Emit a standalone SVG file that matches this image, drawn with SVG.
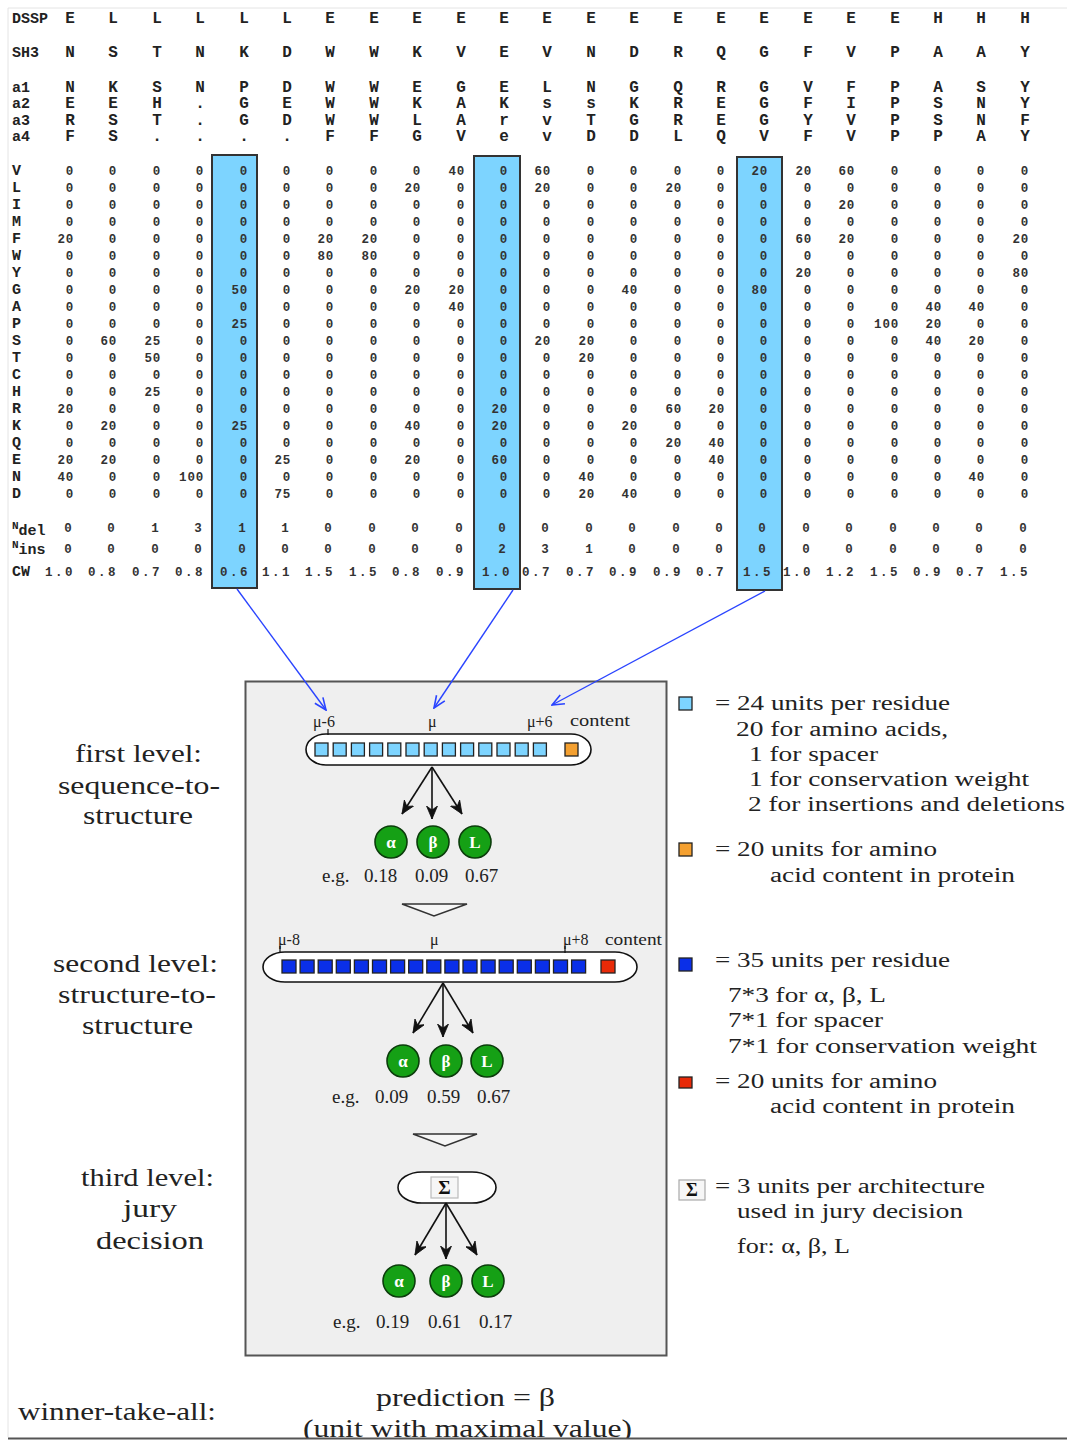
<svg xmlns="http://www.w3.org/2000/svg" width="1067" height="1441" viewBox="0 0 1067 1441">
<style>
.h{font-family:"Liberation Mono",monospace;font-weight:bold;font-size:16px;fill:#222;text-anchor:middle}
.lb{font-family:"Liberation Mono",monospace;font-weight:bold;font-size:15px;fill:#222}
.n{font-family:"Liberation Mono",monospace;font-weight:bold;font-size:12.5px;fill:#333;text-anchor:end;letter-spacing:0.8px}
.c{font-family:"Liberation Mono",monospace;font-weight:bold;font-size:12.5px;fill:#333;text-anchor:middle}
.cw{font-family:"Liberation Mono",monospace;font-weight:bold;font-size:12.5px;fill:#333;text-anchor:middle;letter-spacing:2.5px}
.s{font-family:"Liberation Serif",serif;font-size:26px;fill:#222}
.g{font-family:"Liberation Serif",serif;font-size:20px;fill:#222}
.e{font-family:"Liberation Serif",serif;font-size:19px;fill:#222}
.m{font-family:"Liberation Serif",serif;font-size:16px;fill:#222}
.hl{fill:#7dd4ff;stroke:#333;stroke-width:2}
.cb{fill:#7dd4ff;stroke:#222;stroke-width:1.3}
.co{fill:#f4a030;stroke:#222;stroke-width:1.3}
.cd{fill:#0a2fe8;stroke:#222;stroke-width:1.3}
.cr{fill:#e82a08;stroke:#222;stroke-width:1.3}
.pill{fill:#fff;stroke:#111;stroke-width:1.6}
.gc{fill:#15a015;stroke:#0b3d0b;stroke-width:1.6}
.gt{font-family:"Liberation Serif",serif;font-weight:bold;font-size:17px;fill:#fff;text-anchor:middle}
.ba{stroke:#111;stroke-width:1.6;fill:none;marker-end:url(#ak)}
.bl{stroke:#2a44ff;stroke-width:1.4;fill:none;marker-end:url(#ab)}
.tk{stroke:#111;stroke-width:1.2}
</style>
<defs>
<marker id="ab" viewBox="0 0 14 12" refX="13" refY="6" markerWidth="14" markerHeight="12" orient="auto" markerUnits="userSpaceOnUse"><path d="M1,1 L13,6 L1,11" fill="none" stroke="#2a44ff" stroke-width="1.6"/></marker>
<marker id="ak" viewBox="0 0 14 12" refX="13" refY="6" markerWidth="14" markerHeight="12" orient="auto" markerUnits="userSpaceOnUse"><path d="M0,0.5 L13,6 L0,11.5 L4,6 Z" fill="#111" stroke="#111" stroke-width="0.8"/></marker>
</defs>
<rect x="0" y="0" width="1067" height="1441" fill="#fff"/>
<line x1="8" y1="8" x2="1067" y2="8" stroke="#e4e4e4" stroke-width="1"/>
<line x1="8" y1="8" x2="8" y2="1437" stroke="#e4e4e4" stroke-width="1"/>

<g id="highlights">
<rect class="hl" x="212" y="155" width="45" height="433"/>
<rect class="hl" x="474" y="156" width="46" height="433"/>
<rect class="hl" x="737" y="157" width="45" height="433"/>
</g>

<g id="table">
<text class="lb" x="12" y="23">DSSP</text>
<text class="h" y="23"><tspan x="70">E</tspan><tspan x="113">L</tspan><tspan x="157">L</tspan><tspan x="200">L</tspan><tspan x="244">L</tspan><tspan x="287">L</tspan><tspan x="330">E</tspan><tspan x="374">E</tspan><tspan x="417">E</tspan><tspan x="461">E</tspan><tspan x="504">E</tspan><tspan x="547">E</tspan><tspan x="591">E</tspan><tspan x="634">E</tspan><tspan x="678">E</tspan><tspan x="721">E</tspan><tspan x="764">E</tspan><tspan x="808">E</tspan><tspan x="851">E</tspan><tspan x="895">E</tspan><tspan x="938">H</tspan><tspan x="981">H</tspan><tspan x="1025">H</tspan></text>
<text class="lb" x="12" y="57">SH3</text>
<text class="h" y="57"><tspan x="70">N</tspan><tspan x="113">S</tspan><tspan x="157">T</tspan><tspan x="200">N</tspan><tspan x="244">K</tspan><tspan x="287">D</tspan><tspan x="330">W</tspan><tspan x="374">W</tspan><tspan x="417">K</tspan><tspan x="461">V</tspan><tspan x="504">E</tspan><tspan x="547">V</tspan><tspan x="591">N</tspan><tspan x="634">D</tspan><tspan x="678">R</tspan><tspan x="721">Q</tspan><tspan x="764">G</tspan><tspan x="808">F</tspan><tspan x="851">V</tspan><tspan x="895">P</tspan><tspan x="938">A</tspan><tspan x="981">A</tspan><tspan x="1025">Y</tspan></text>
<text class="lb" x="12" y="92">a1</text>
<text class="h" y="92"><tspan x="70">N</tspan><tspan x="113">K</tspan><tspan x="157">S</tspan><tspan x="200">N</tspan><tspan x="244">P</tspan><tspan x="287">D</tspan><tspan x="330">W</tspan><tspan x="374">W</tspan><tspan x="417">E</tspan><tspan x="461">G</tspan><tspan x="504">E</tspan><tspan x="547">L</tspan><tspan x="591">N</tspan><tspan x="634">G</tspan><tspan x="678">Q</tspan><tspan x="721">R</tspan><tspan x="764">G</tspan><tspan x="808">V</tspan><tspan x="851">F</tspan><tspan x="895">P</tspan><tspan x="938">A</tspan><tspan x="981">S</tspan><tspan x="1025">Y</tspan></text>
<text class="lb" x="12" y="108">a2</text>
<text class="h" y="108"><tspan x="70">E</tspan><tspan x="113">E</tspan><tspan x="157">H</tspan><tspan x="200">.</tspan><tspan x="244">G</tspan><tspan x="287">E</tspan><tspan x="330">W</tspan><tspan x="374">W</tspan><tspan x="417">K</tspan><tspan x="461">A</tspan><tspan x="504">K</tspan><tspan x="547">s</tspan><tspan x="591">s</tspan><tspan x="634">K</tspan><tspan x="678">R</tspan><tspan x="721">E</tspan><tspan x="764">G</tspan><tspan x="808">F</tspan><tspan x="851">I</tspan><tspan x="895">P</tspan><tspan x="938">S</tspan><tspan x="981">N</tspan><tspan x="1025">Y</tspan></text>
<text class="lb" x="12" y="125">a3</text>
<text class="h" y="125"><tspan x="70">R</tspan><tspan x="113">S</tspan><tspan x="157">T</tspan><tspan x="200">.</tspan><tspan x="244">G</tspan><tspan x="287">D</tspan><tspan x="330">W</tspan><tspan x="374">W</tspan><tspan x="417">L</tspan><tspan x="461">A</tspan><tspan x="504">r</tspan><tspan x="547">v</tspan><tspan x="591">T</tspan><tspan x="634">G</tspan><tspan x="678">R</tspan><tspan x="721">E</tspan><tspan x="764">G</tspan><tspan x="808">Y</tspan><tspan x="851">V</tspan><tspan x="895">P</tspan><tspan x="938">S</tspan><tspan x="981">N</tspan><tspan x="1025">F</tspan></text>
<text class="lb" x="12" y="141">a4</text>
<text class="h" y="141"><tspan x="70">F</tspan><tspan x="113">S</tspan><tspan x="157">.</tspan><tspan x="200">.</tspan><tspan x="244">.</tspan><tspan x="287">.</tspan><tspan x="330">F</tspan><tspan x="374">F</tspan><tspan x="417">G</tspan><tspan x="461">V</tspan><tspan x="504">e</tspan><tspan x="547">v</tspan><tspan x="591">D</tspan><tspan x="634">D</tspan><tspan x="678">L</tspan><tspan x="721">Q</tspan><tspan x="764">V</tspan><tspan x="808">F</tspan><tspan x="851">V</tspan><tspan x="895">P</tspan><tspan x="938">P</tspan><tspan x="981">A</tspan><tspan x="1025">Y</tspan></text>

<text class="lb" x="12" y="175">V</text>
<text class="n" y="175"><tspan x="74">0</tspan><tspan x="117">0</tspan><tspan x="161">0</tspan><tspan x="204">0</tspan><tspan x="248">0</tspan><tspan x="291">0</tspan><tspan x="334">0</tspan><tspan x="378">0</tspan><tspan x="421">0</tspan><tspan x="465">40</tspan><tspan x="508">0</tspan><tspan x="551">60</tspan><tspan x="595">0</tspan><tspan x="638">0</tspan><tspan x="682">0</tspan><tspan x="725">0</tspan><tspan x="768">20</tspan><tspan x="812">20</tspan><tspan x="855">60</tspan><tspan x="899">0</tspan><tspan x="942">0</tspan><tspan x="985">0</tspan><tspan x="1029">0</tspan></text>
<text class="lb" x="12" y="192">L</text>
<text class="n" y="192"><tspan x="74">0</tspan><tspan x="117">0</tspan><tspan x="161">0</tspan><tspan x="204">0</tspan><tspan x="248">0</tspan><tspan x="291">0</tspan><tspan x="334">0</tspan><tspan x="378">0</tspan><tspan x="421">20</tspan><tspan x="465">0</tspan><tspan x="508">0</tspan><tspan x="551">20</tspan><tspan x="595">0</tspan><tspan x="638">0</tspan><tspan x="682">20</tspan><tspan x="725">0</tspan><tspan x="768">0</tspan><tspan x="812">0</tspan><tspan x="855">0</tspan><tspan x="899">0</tspan><tspan x="942">0</tspan><tspan x="985">0</tspan><tspan x="1029">0</tspan></text>
<text class="lb" x="12" y="209">I</text>
<text class="n" y="209"><tspan x="74">0</tspan><tspan x="117">0</tspan><tspan x="161">0</tspan><tspan x="204">0</tspan><tspan x="248">0</tspan><tspan x="291">0</tspan><tspan x="334">0</tspan><tspan x="378">0</tspan><tspan x="421">0</tspan><tspan x="465">0</tspan><tspan x="508">0</tspan><tspan x="551">0</tspan><tspan x="595">0</tspan><tspan x="638">0</tspan><tspan x="682">0</tspan><tspan x="725">0</tspan><tspan x="768">0</tspan><tspan x="812">0</tspan><tspan x="855">20</tspan><tspan x="899">0</tspan><tspan x="942">0</tspan><tspan x="985">0</tspan><tspan x="1029">0</tspan></text>
<text class="lb" x="12" y="226">M</text>
<text class="n" y="226"><tspan x="74">0</tspan><tspan x="117">0</tspan><tspan x="161">0</tspan><tspan x="204">0</tspan><tspan x="248">0</tspan><tspan x="291">0</tspan><tspan x="334">0</tspan><tspan x="378">0</tspan><tspan x="421">0</tspan><tspan x="465">0</tspan><tspan x="508">0</tspan><tspan x="551">0</tspan><tspan x="595">0</tspan><tspan x="638">0</tspan><tspan x="682">0</tspan><tspan x="725">0</tspan><tspan x="768">0</tspan><tspan x="812">0</tspan><tspan x="855">0</tspan><tspan x="899">0</tspan><tspan x="942">0</tspan><tspan x="985">0</tspan><tspan x="1029">0</tspan></text>
<text class="lb" x="12" y="243">F</text>
<text class="n" y="243"><tspan x="74">20</tspan><tspan x="117">0</tspan><tspan x="161">0</tspan><tspan x="204">0</tspan><tspan x="248">0</tspan><tspan x="291">0</tspan><tspan x="334">20</tspan><tspan x="378">20</tspan><tspan x="421">0</tspan><tspan x="465">0</tspan><tspan x="508">0</tspan><tspan x="551">0</tspan><tspan x="595">0</tspan><tspan x="638">0</tspan><tspan x="682">0</tspan><tspan x="725">0</tspan><tspan x="768">0</tspan><tspan x="812">60</tspan><tspan x="855">20</tspan><tspan x="899">0</tspan><tspan x="942">0</tspan><tspan x="985">0</tspan><tspan x="1029">20</tspan></text>
<text class="lb" x="12" y="260">W</text>
<text class="n" y="260"><tspan x="74">0</tspan><tspan x="117">0</tspan><tspan x="161">0</tspan><tspan x="204">0</tspan><tspan x="248">0</tspan><tspan x="291">0</tspan><tspan x="334">80</tspan><tspan x="378">80</tspan><tspan x="421">0</tspan><tspan x="465">0</tspan><tspan x="508">0</tspan><tspan x="551">0</tspan><tspan x="595">0</tspan><tspan x="638">0</tspan><tspan x="682">0</tspan><tspan x="725">0</tspan><tspan x="768">0</tspan><tspan x="812">0</tspan><tspan x="855">0</tspan><tspan x="899">0</tspan><tspan x="942">0</tspan><tspan x="985">0</tspan><tspan x="1029">0</tspan></text>
<text class="lb" x="12" y="277">Y</text>
<text class="n" y="277"><tspan x="74">0</tspan><tspan x="117">0</tspan><tspan x="161">0</tspan><tspan x="204">0</tspan><tspan x="248">0</tspan><tspan x="291">0</tspan><tspan x="334">0</tspan><tspan x="378">0</tspan><tspan x="421">0</tspan><tspan x="465">0</tspan><tspan x="508">0</tspan><tspan x="551">0</tspan><tspan x="595">0</tspan><tspan x="638">0</tspan><tspan x="682">0</tspan><tspan x="725">0</tspan><tspan x="768">0</tspan><tspan x="812">20</tspan><tspan x="855">0</tspan><tspan x="899">0</tspan><tspan x="942">0</tspan><tspan x="985">0</tspan><tspan x="1029">80</tspan></text>
<text class="lb" x="12" y="294">G</text>
<text class="n" y="294"><tspan x="74">0</tspan><tspan x="117">0</tspan><tspan x="161">0</tspan><tspan x="204">0</tspan><tspan x="248">50</tspan><tspan x="291">0</tspan><tspan x="334">0</tspan><tspan x="378">0</tspan><tspan x="421">20</tspan><tspan x="465">20</tspan><tspan x="508">0</tspan><tspan x="551">0</tspan><tspan x="595">0</tspan><tspan x="638">40</tspan><tspan x="682">0</tspan><tspan x="725">0</tspan><tspan x="768">80</tspan><tspan x="812">0</tspan><tspan x="855">0</tspan><tspan x="899">0</tspan><tspan x="942">0</tspan><tspan x="985">0</tspan><tspan x="1029">0</tspan></text>
<text class="lb" x="12" y="311">A</text>
<text class="n" y="311"><tspan x="74">0</tspan><tspan x="117">0</tspan><tspan x="161">0</tspan><tspan x="204">0</tspan><tspan x="248">0</tspan><tspan x="291">0</tspan><tspan x="334">0</tspan><tspan x="378">0</tspan><tspan x="421">0</tspan><tspan x="465">40</tspan><tspan x="508">0</tspan><tspan x="551">0</tspan><tspan x="595">0</tspan><tspan x="638">0</tspan><tspan x="682">0</tspan><tspan x="725">0</tspan><tspan x="768">0</tspan><tspan x="812">0</tspan><tspan x="855">0</tspan><tspan x="899">0</tspan><tspan x="942">40</tspan><tspan x="985">40</tspan><tspan x="1029">0</tspan></text>
<text class="lb" x="12" y="328">P</text>
<text class="n" y="328"><tspan x="74">0</tspan><tspan x="117">0</tspan><tspan x="161">0</tspan><tspan x="204">0</tspan><tspan x="248">25</tspan><tspan x="291">0</tspan><tspan x="334">0</tspan><tspan x="378">0</tspan><tspan x="421">0</tspan><tspan x="465">0</tspan><tspan x="508">0</tspan><tspan x="551">0</tspan><tspan x="595">0</tspan><tspan x="638">0</tspan><tspan x="682">0</tspan><tspan x="725">0</tspan><tspan x="768">0</tspan><tspan x="812">0</tspan><tspan x="855">0</tspan><tspan x="899">100</tspan><tspan x="942">20</tspan><tspan x="985">0</tspan><tspan x="1029">0</tspan></text>
<text class="lb" x="12" y="345">S</text>
<text class="n" y="345"><tspan x="74">0</tspan><tspan x="117">60</tspan><tspan x="161">25</tspan><tspan x="204">0</tspan><tspan x="248">0</tspan><tspan x="291">0</tspan><tspan x="334">0</tspan><tspan x="378">0</tspan><tspan x="421">0</tspan><tspan x="465">0</tspan><tspan x="508">0</tspan><tspan x="551">20</tspan><tspan x="595">20</tspan><tspan x="638">0</tspan><tspan x="682">0</tspan><tspan x="725">0</tspan><tspan x="768">0</tspan><tspan x="812">0</tspan><tspan x="855">0</tspan><tspan x="899">0</tspan><tspan x="942">40</tspan><tspan x="985">20</tspan><tspan x="1029">0</tspan></text>
<text class="lb" x="12" y="362">T</text>
<text class="n" y="362"><tspan x="74">0</tspan><tspan x="117">0</tspan><tspan x="161">50</tspan><tspan x="204">0</tspan><tspan x="248">0</tspan><tspan x="291">0</tspan><tspan x="334">0</tspan><tspan x="378">0</tspan><tspan x="421">0</tspan><tspan x="465">0</tspan><tspan x="508">0</tspan><tspan x="551">0</tspan><tspan x="595">20</tspan><tspan x="638">0</tspan><tspan x="682">0</tspan><tspan x="725">0</tspan><tspan x="768">0</tspan><tspan x="812">0</tspan><tspan x="855">0</tspan><tspan x="899">0</tspan><tspan x="942">0</tspan><tspan x="985">0</tspan><tspan x="1029">0</tspan></text>
<text class="lb" x="12" y="379">C</text>
<text class="n" y="379"><tspan x="74">0</tspan><tspan x="117">0</tspan><tspan x="161">0</tspan><tspan x="204">0</tspan><tspan x="248">0</tspan><tspan x="291">0</tspan><tspan x="334">0</tspan><tspan x="378">0</tspan><tspan x="421">0</tspan><tspan x="465">0</tspan><tspan x="508">0</tspan><tspan x="551">0</tspan><tspan x="595">0</tspan><tspan x="638">0</tspan><tspan x="682">0</tspan><tspan x="725">0</tspan><tspan x="768">0</tspan><tspan x="812">0</tspan><tspan x="855">0</tspan><tspan x="899">0</tspan><tspan x="942">0</tspan><tspan x="985">0</tspan><tspan x="1029">0</tspan></text>
<text class="lb" x="12" y="396">H</text>
<text class="n" y="396"><tspan x="74">0</tspan><tspan x="117">0</tspan><tspan x="161">25</tspan><tspan x="204">0</tspan><tspan x="248">0</tspan><tspan x="291">0</tspan><tspan x="334">0</tspan><tspan x="378">0</tspan><tspan x="421">0</tspan><tspan x="465">0</tspan><tspan x="508">0</tspan><tspan x="551">0</tspan><tspan x="595">0</tspan><tspan x="638">0</tspan><tspan x="682">0</tspan><tspan x="725">0</tspan><tspan x="768">0</tspan><tspan x="812">0</tspan><tspan x="855">0</tspan><tspan x="899">0</tspan><tspan x="942">0</tspan><tspan x="985">0</tspan><tspan x="1029">0</tspan></text>
<text class="lb" x="12" y="413">R</text>
<text class="n" y="413"><tspan x="74">20</tspan><tspan x="117">0</tspan><tspan x="161">0</tspan><tspan x="204">0</tspan><tspan x="248">0</tspan><tspan x="291">0</tspan><tspan x="334">0</tspan><tspan x="378">0</tspan><tspan x="421">0</tspan><tspan x="465">0</tspan><tspan x="508">20</tspan><tspan x="551">0</tspan><tspan x="595">0</tspan><tspan x="638">0</tspan><tspan x="682">60</tspan><tspan x="725">20</tspan><tspan x="768">0</tspan><tspan x="812">0</tspan><tspan x="855">0</tspan><tspan x="899">0</tspan><tspan x="942">0</tspan><tspan x="985">0</tspan><tspan x="1029">0</tspan></text>
<text class="lb" x="12" y="430">K</text>
<text class="n" y="430"><tspan x="74">0</tspan><tspan x="117">20</tspan><tspan x="161">0</tspan><tspan x="204">0</tspan><tspan x="248">25</tspan><tspan x="291">0</tspan><tspan x="334">0</tspan><tspan x="378">0</tspan><tspan x="421">40</tspan><tspan x="465">0</tspan><tspan x="508">20</tspan><tspan x="551">0</tspan><tspan x="595">0</tspan><tspan x="638">20</tspan><tspan x="682">0</tspan><tspan x="725">0</tspan><tspan x="768">0</tspan><tspan x="812">0</tspan><tspan x="855">0</tspan><tspan x="899">0</tspan><tspan x="942">0</tspan><tspan x="985">0</tspan><tspan x="1029">0</tspan></text>
<text class="lb" x="12" y="447">Q</text>
<text class="n" y="447"><tspan x="74">0</tspan><tspan x="117">0</tspan><tspan x="161">0</tspan><tspan x="204">0</tspan><tspan x="248">0</tspan><tspan x="291">0</tspan><tspan x="334">0</tspan><tspan x="378">0</tspan><tspan x="421">0</tspan><tspan x="465">0</tspan><tspan x="508">0</tspan><tspan x="551">0</tspan><tspan x="595">0</tspan><tspan x="638">0</tspan><tspan x="682">20</tspan><tspan x="725">40</tspan><tspan x="768">0</tspan><tspan x="812">0</tspan><tspan x="855">0</tspan><tspan x="899">0</tspan><tspan x="942">0</tspan><tspan x="985">0</tspan><tspan x="1029">0</tspan></text>
<text class="lb" x="12" y="464">E</text>
<text class="n" y="464"><tspan x="74">20</tspan><tspan x="117">20</tspan><tspan x="161">0</tspan><tspan x="204">0</tspan><tspan x="248">0</tspan><tspan x="291">25</tspan><tspan x="334">0</tspan><tspan x="378">0</tspan><tspan x="421">20</tspan><tspan x="465">0</tspan><tspan x="508">60</tspan><tspan x="551">0</tspan><tspan x="595">0</tspan><tspan x="638">0</tspan><tspan x="682">0</tspan><tspan x="725">40</tspan><tspan x="768">0</tspan><tspan x="812">0</tspan><tspan x="855">0</tspan><tspan x="899">0</tspan><tspan x="942">0</tspan><tspan x="985">0</tspan><tspan x="1029">0</tspan></text>
<text class="lb" x="12" y="481">N</text>
<text class="n" y="481"><tspan x="74">40</tspan><tspan x="117">0</tspan><tspan x="161">0</tspan><tspan x="204">100</tspan><tspan x="248">0</tspan><tspan x="291">0</tspan><tspan x="334">0</tspan><tspan x="378">0</tspan><tspan x="421">0</tspan><tspan x="465">0</tspan><tspan x="508">0</tspan><tspan x="551">0</tspan><tspan x="595">40</tspan><tspan x="638">0</tspan><tspan x="682">0</tspan><tspan x="725">0</tspan><tspan x="768">0</tspan><tspan x="812">0</tspan><tspan x="855">0</tspan><tspan x="899">0</tspan><tspan x="942">0</tspan><tspan x="985">40</tspan><tspan x="1029">0</tspan></text>
<text class="lb" x="12" y="498">D</text>
<text class="n" y="498"><tspan x="74">0</tspan><tspan x="117">0</tspan><tspan x="161">0</tspan><tspan x="204">0</tspan><tspan x="248">0</tspan><tspan x="291">75</tspan><tspan x="334">0</tspan><tspan x="378">0</tspan><tspan x="421">0</tspan><tspan x="465">0</tspan><tspan x="508">0</tspan><tspan x="551">0</tspan><tspan x="595">20</tspan><tspan x="638">40</tspan><tspan x="682">0</tspan><tspan x="725">0</tspan><tspan x="768">0</tspan><tspan x="812">0</tspan><tspan x="855">0</tspan><tspan x="899">0</tspan><tspan x="942">0</tspan><tspan x="985">0</tspan><tspan x="1029">0</tspan></text>

<text class="lb" x="12" y="529"><tspan font-size="11">N</tspan><tspan dy="6" font-size="15">del</tspan></text>
<text class="c" y="532"><tspan x="68">0</tspan><tspan x="111">0</tspan><tspan x="155">1</tspan><tspan x="198">3</tspan><tspan x="242">1</tspan><tspan x="285">1</tspan><tspan x="328">0</tspan><tspan x="372">0</tspan><tspan x="415">0</tspan><tspan x="459">0</tspan><tspan x="502">0</tspan><tspan x="545">0</tspan><tspan x="589">0</tspan><tspan x="632">0</tspan><tspan x="676">0</tspan><tspan x="719">0</tspan><tspan x="762">0</tspan><tspan x="806">0</tspan><tspan x="849">0</tspan><tspan x="893">0</tspan><tspan x="936">0</tspan><tspan x="979">0</tspan><tspan x="1023">0</tspan></text>
<text class="lb" x="12" y="548"><tspan font-size="11">N</tspan><tspan dy="6" font-size="15">ins</tspan></text>
<text class="c" y="553"><tspan x="68">0</tspan><tspan x="111">0</tspan><tspan x="155">0</tspan><tspan x="198">0</tspan><tspan x="242">0</tspan><tspan x="285">0</tspan><tspan x="328">0</tspan><tspan x="372">0</tspan><tspan x="415">0</tspan><tspan x="459">0</tspan><tspan x="502">2</tspan><tspan x="545">3</tspan><tspan x="589">1</tspan><tspan x="632">0</tspan><tspan x="676">0</tspan><tspan x="719">0</tspan><tspan x="762">0</tspan><tspan x="806">0</tspan><tspan x="849">0</tspan><tspan x="893">0</tspan><tspan x="936">0</tspan><tspan x="979">0</tspan><tspan x="1023">0</tspan></text>
<text class="lb" x="12" y="576">CW</text>
<text class="cw" y="576"><tspan x="60">1.0</tspan><tspan x="103">0.8</tspan><tspan x="147">0.7</tspan><tspan x="190">0.8</tspan><tspan x="235">0.6</tspan><tspan x="277">1.1</tspan><tspan x="320">1.5</tspan><tspan x="364">1.5</tspan><tspan x="407">0.8</tspan><tspan x="451">0.9</tspan><tspan x="497">1.0</tspan><tspan x="537">0.7</tspan><tspan x="581">0.7</tspan><tspan x="624">0.9</tspan><tspan x="668">0.9</tspan><tspan x="711">0.7</tspan><tspan x="758">1.5</tspan><tspan x="798">1.0</tspan><tspan x="841">1.2</tspan><tspan x="885">1.5</tspan><tspan x="928">0.9</tspan><tspan x="971">0.7</tspan><tspan x="1015">1.5</tspan></text>
</g>

<g id="panel">
<rect x="245.5" y="681.5" width="421" height="674" fill="#efefef" stroke="#555" stroke-width="2"/>
</g>

<g id="level1-input">
<rect class="pill" x="306" y="734" width="285" height="31" rx="20" ry="15.5"/>
<rect class="cb" x="315" y="743" width="13" height="13"/><rect class="cb" x="333.2" y="743" width="13" height="13"/><rect class="cb" x="351.4" y="743" width="13" height="13"/><rect class="cb" x="369.6" y="743" width="13" height="13"/><rect class="cb" x="387.8" y="743" width="13" height="13"/><rect class="cb" x="406" y="743" width="13" height="13"/><rect class="cb" x="424.2" y="743" width="13" height="13"/><rect class="cb" x="442.4" y="743" width="13" height="13"/><rect class="cb" x="460.6" y="743" width="13" height="13"/><rect class="cb" x="478.8" y="743" width="13" height="13"/><rect class="cb" x="497" y="743" width="13" height="13"/><rect class="cb" x="515.2" y="743" width="13" height="13"/><rect class="cb" x="533.4" y="743" width="13" height="13"/>
<rect class="co" x="565" y="743" width="13" height="13"/>
<text class="m" x="313" y="727">μ-6</text>
<line class="tk" x1="328" y1="729" x2="328" y2="735"/>
<text class="m" x="428" y="727">μ</text>
<text class="m" x="527" y="727">μ+6</text>
<text class="m" x="570" y="726" textLength="60" lengthAdjust="spacingAndGlyphs">content</text>
</g>

<g id="level1-out">
<circle class="gc" cx="391" cy="842" r="16"/><text class="gt" x="391" y="848">α</text>
<circle class="gc" cx="433" cy="842" r="16"/><text class="gt" x="433" y="848">β</text>
<circle class="gc" cx="475" cy="842" r="16"/><text class="gt" x="475" y="848">L</text>
<text class="e" y="882"><tspan x="322">e.g.</tspan><tspan x="364">0.18</tspan><tspan x="415">0.09</tspan><tspan x="465">0.67</tspan></text>
</g>

<g id="down1"><polygon points="402,904 467,904 434,916" fill="#f6f6f6" stroke="#333" stroke-width="1.5"/></g>

<g id="level2-input">
<rect class="pill" x="263" y="952" width="374" height="30" rx="22" ry="15"/>
<rect class="cd" x="282" y="960" width="14" height="13"/><rect class="cd" x="300.1" y="960" width="14" height="13"/><rect class="cd" x="318.2" y="960" width="14" height="13"/><rect class="cd" x="336.3" y="960" width="14" height="13"/><rect class="cd" x="354.4" y="960" width="14" height="13"/><rect class="cd" x="372.5" y="960" width="14" height="13"/><rect class="cd" x="390.6" y="960" width="14" height="13"/><rect class="cd" x="408.7" y="960" width="14" height="13"/><rect class="cd" x="426.8" y="960" width="14" height="13"/><rect class="cd" x="444.9" y="960" width="14" height="13"/><rect class="cd" x="463" y="960" width="14" height="13"/><rect class="cd" x="481.1" y="960" width="14" height="13"/><rect class="cd" x="499.2" y="960" width="14" height="13"/><rect class="cd" x="517.3" y="960" width="14" height="13"/><rect class="cd" x="535.4" y="960" width="14" height="13"/><rect class="cd" x="553.5" y="960" width="14" height="13"/><rect class="cd" x="571.6" y="960" width="14" height="13"/>
<rect class="cr" x="601" y="960" width="14" height="13"/>
<text class="m" x="278" y="945">μ-8</text>
<line class="tk" x1="280" y1="946" x2="280" y2="953"/>
<text class="m" x="430" y="945">μ</text>
<text class="m" x="563" y="945">μ+8</text>
<line class="tk" x1="565" y1="946" x2="565" y2="953"/>
<text class="m" x="605" y="945" textLength="57" lengthAdjust="spacingAndGlyphs">content</text>
</g>

<g id="level2-out">
<circle class="gc" cx="403" cy="1061" r="16"/><text class="gt" x="403" y="1067">α</text>
<circle class="gc" cx="446" cy="1061" r="16"/><text class="gt" x="446" y="1067">β</text>
<circle class="gc" cx="487" cy="1061" r="16"/><text class="gt" x="487" y="1067">L</text>
<text class="e" y="1103"><tspan x="332">e.g.</tspan><tspan x="375">0.09</tspan><tspan x="427">0.59</tspan><tspan x="477">0.67</tspan></text>
</g>

<g id="down2"><polygon points="413,1134 477,1134 445,1146" fill="#f6f6f6" stroke="#333" stroke-width="1.5"/></g>

<g id="level3-input">
<rect class="pill" x="398" y="1172" width="98" height="31" rx="24" ry="15.5"/>
<rect x="431" y="1177" width="27" height="21" fill="#f6f6f6" stroke="#bbb" stroke-width="1.2"/>
<text x="444.5" y="1194" font-family="Liberation Serif, serif" font-weight="bold" font-size="19" text-anchor="middle" fill="#111">Σ</text>
</g>

<g id="level3-out">
<circle class="gc" cx="399" cy="1281" r="16"/><text class="gt" x="399" y="1287">α</text>
<circle class="gc" cx="446" cy="1281" r="16"/><text class="gt" x="446" y="1287">β</text>
<circle class="gc" cx="488" cy="1281" r="16"/><text class="gt" x="488" y="1287">L</text>
<text class="e" y="1328"><tspan x="333">e.g.</tspan><tspan x="376">0.19</tspan><tspan x="428">0.61</tspan><tspan x="479">0.17</tspan></text>
</g>

<g id="connectors">
<line class="bl" x1="237" y1="589" x2="326" y2="710"/>
<line class="bl" x1="513" y1="590" x2="434" y2="708"/>
<line class="bl" x1="765" y1="591" x2="552" y2="705"/>
<line class="ba" x1="432" y1="767" x2="402" y2="814"/>
<line class="ba" x1="432" y1="767" x2="432" y2="819"/>
<line class="ba" x1="432" y1="767" x2="462" y2="814"/>
<line class="ba" x1="443" y1="983" x2="413" y2="1033"/>
<line class="ba" x1="443" y1="983" x2="443" y2="1037"/>
<line class="ba" x1="443" y1="983" x2="473" y2="1033"/>
<line class="ba" x1="446" y1="1203" x2="415" y2="1255"/>
<line class="ba" x1="446" y1="1203" x2="446" y2="1259"/>
<line class="ba" x1="446" y1="1203" x2="477" y2="1255"/>
</g>

<g id="left-labels">
<text class="s" x="75" y="762" textLength="127" lengthAdjust="spacingAndGlyphs">first level:</text>
<text class="s" x="58" y="794" textLength="162" lengthAdjust="spacingAndGlyphs">sequence-to-</text>
<text class="s" x="83" y="824" textLength="110" lengthAdjust="spacingAndGlyphs">structure</text>
<text class="s" x="53" y="972" textLength="165" lengthAdjust="spacingAndGlyphs">second level:</text>
<text class="s" x="58" y="1003" textLength="158" lengthAdjust="spacingAndGlyphs">structure-to-</text>
<text class="s" x="82" y="1034" textLength="111" lengthAdjust="spacingAndGlyphs">structure</text>
<text class="s" x="81" y="1186" textLength="133" lengthAdjust="spacingAndGlyphs">third level:</text>
<text class="s" x="123" y="1217" textLength="54" lengthAdjust="spacingAndGlyphs">jury</text>
<text class="s" x="96" y="1249" textLength="108" lengthAdjust="spacingAndGlyphs">decision</text>
<text class="s" x="18" y="1420" textLength="198" lengthAdjust="spacingAndGlyphs">winner-take-all:</text>
<text class="s" x="376" y="1406" textLength="179" lengthAdjust="spacingAndGlyphs">prediction = β</text>
<text class="s" x="303" y="1437" textLength="329" lengthAdjust="spacingAndGlyphs">(unit with maximal value)</text>
</g>

<g id="legend">
<rect class="cb" x="679" y="697" width="13" height="13"/>
<text class="g" x="715" y="710" textLength="235" lengthAdjust="spacingAndGlyphs">= 24 units per residue</text>
<text class="g" x="736" y="736" textLength="212" lengthAdjust="spacingAndGlyphs">20 for amino acids,</text>
<text class="g" x="749" y="761" textLength="129" lengthAdjust="spacingAndGlyphs">1 for spacer</text>
<text class="g" x="749" y="786" textLength="280" lengthAdjust="spacingAndGlyphs">1 for conservation weight</text>
<text class="g" x="748" y="811" textLength="317" lengthAdjust="spacingAndGlyphs">2 for insertions and deletions</text>
<rect class="co" x="679" y="843" width="13" height="13"/>
<text class="g" x="715" y="856" textLength="222" lengthAdjust="spacingAndGlyphs">= 20 units for amino</text>
<text class="g" x="770" y="882" textLength="245" lengthAdjust="spacingAndGlyphs">acid content in protein</text>
<rect class="cd" x="679" y="958" width="13" height="13"/>
<text class="g" x="715" y="967" textLength="235" lengthAdjust="spacingAndGlyphs">= 35 units per residue</text>
<text class="g" x="728" y="1002" textLength="158" lengthAdjust="spacingAndGlyphs">7*3 for α, β, L</text>
<text class="g" x="728" y="1027" textLength="155" lengthAdjust="spacingAndGlyphs">7*1 for spacer</text>
<text class="g" x="728" y="1053" textLength="309" lengthAdjust="spacingAndGlyphs">7*1 for conservation weight</text>
<rect class="cr" x="679" y="1077" width="13" height="11"/>
<text class="g" x="715" y="1088" textLength="222" lengthAdjust="spacingAndGlyphs">= 20 units for amino</text>
<text class="g" x="770" y="1113" textLength="245" lengthAdjust="spacingAndGlyphs">acid content in protein</text>
<rect x="679" y="1180" width="26" height="20" fill="#f6f6f6" stroke="#aaa" stroke-width="1.2"/>
<text x="692" y="1196" font-family="Liberation Serif, serif" font-weight="bold" font-size="18" text-anchor="middle" fill="#111">Σ</text>
<text class="g" x="715" y="1193" textLength="270" lengthAdjust="spacingAndGlyphs">= 3 units per architecture</text>
<text class="g" x="737" y="1218" textLength="226" lengthAdjust="spacingAndGlyphs">used in jury decision</text>
<text class="g" x="737" y="1253" textLength="113" lengthAdjust="spacingAndGlyphs">for: α, β, L</text>
</g>

<rect x="0" y="1439" width="1067" height="2" fill="#fff"/>
<line x1="8" y1="1438.5" x2="1067" y2="1438.5" stroke="#555" stroke-width="2"/>
</svg>
